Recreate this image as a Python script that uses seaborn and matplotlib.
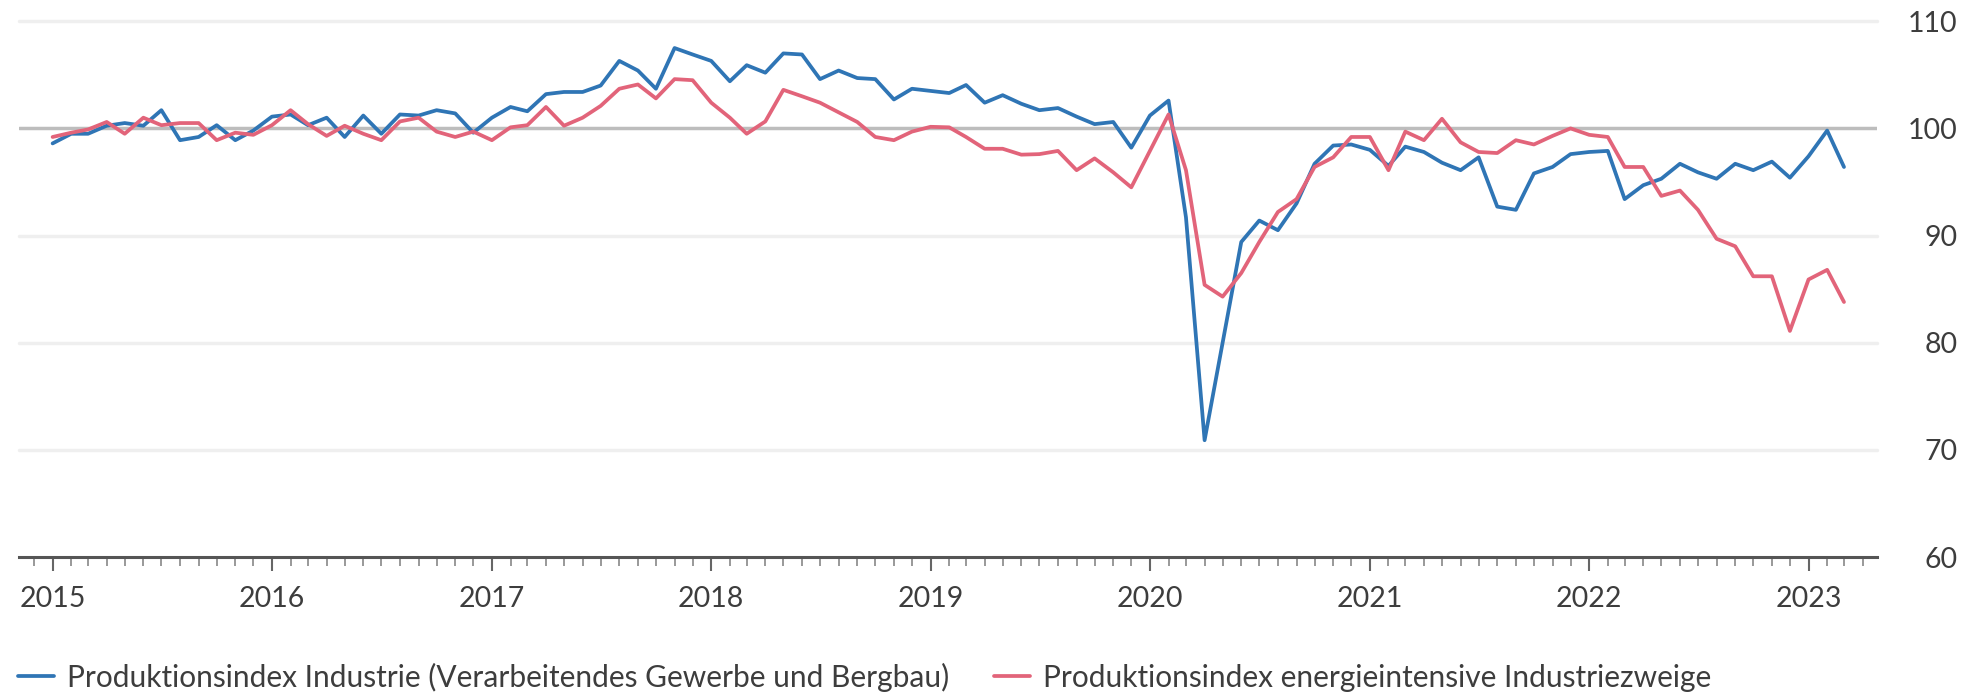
import numpy as np
import pandas as pd
import matplotlib
matplotlib.use("Agg")
import matplotlib.pyplot as plt
import matplotlib.dates as mdates
import seaborn as sns

# Monatswerte Jan 2015 - Mär 2023
industrie = [
    98.6, 99.5, 99.5, 100.25, 100.5, 100.25, 101.7, 98.9, 99.2, 100.3, 98.9, 99.8,
    101.1, 101.3, 100.3, 101.0, 99.2, 101.2, 99.5, 101.3, 101.2, 101.7, 101.4, 99.6,
    101.0, 102.0, 101.6, 103.2, 103.4, 103.4, 104.0, 106.3, 105.4, 103.7, 107.5, 106.9,
    106.3, 104.4, 105.9, 105.2, 107.0, 106.9, 104.6, 105.4, 104.7, 104.6, 102.7, 103.7,
    103.5, 103.3, 104.05, 102.4, 103.1, 102.3, 101.7, 101.9, 101.1, 100.4, 100.6, 98.2,
    101.2, 102.6, 91.7, 70.9, 80.0, 89.4, 91.4, 90.5, 93.0, 96.7, 98.4, 98.5,
    98.0, 96.5, 98.3, 97.8, 96.8, 96.1, 97.3, 92.7, 92.4, 95.8, 96.4, 97.6,
    97.8, 97.9, 93.4, 94.7, 95.3, 96.7, 95.9, 95.3, 96.7, 96.1, 96.9, 95.4,
    97.4, 99.8, 96.4,
]
energieintensiv = [
    99.2, 99.6, 99.9, 100.6, 99.5, 101.0, 100.3, 100.5, 100.5, 98.9, 99.6, 99.4,
    100.3, 101.7, 100.4, 99.3, 100.25, 99.5, 98.9, 100.65, 101.0, 99.7, 99.2, 99.7,
    98.9, 100.1, 100.3, 102.0, 100.25, 101.0, 102.1, 103.7, 104.1, 102.8, 104.6, 104.5,
    102.4, 101.0, 99.5, 100.65, 103.6, 103.0, 102.4, 101.5, 100.6, 99.2, 98.9, 99.7,
    100.15, 100.1, 99.2, 98.1, 98.1, 97.55, 97.6, 97.9, 96.1, 97.2, 95.9, 94.5,
    97.9, 101.3, 96.1, 85.4, 84.3, 86.5, 89.4, 92.2, 93.4, 96.4, 97.3, 99.2,
    99.2, 96.1, 99.7, 98.9, 100.9, 98.7, 97.8, 97.7, 98.9, 98.5, 99.3, 100.0,
    99.4, 99.2, 96.4, 96.4, 93.7, 94.2, 92.4, 89.7, 89.0, 86.2, 86.2, 81.1,
    85.9, 86.8, 83.8,
]
monate = pd.date_range("2015-01-01", periods=len(industrie), freq="MS")

label_ind = "Produktionsindex Industrie (Verarbeitendes Gewerbe und Bergbau)"
label_energie = "Produktionsindex energieintensive Industriezweige"

df = pd.concat([
    pd.DataFrame({"Monat": monate, "Wert": industrie, "Serie": label_ind}),
    pd.DataFrame({"Monat": monate, "Wert": energieintensiv, "Serie": label_energie}),
])

sns.set_theme(style="white")
plt.rcParams['font.family'] = ['Lato', 'DejaVu Sans']

blau = "#2f75b5"
rot = "#e2647a"
textfarbe = "#3d3d3d"

fig = plt.figure(figsize=(19.75, 6.94), dpi=100)
ax = fig.add_axes([0.0096, 0.1974, 0.9408, 0.7766])

# Gitterlinien
for y in [70, 80, 90, 110]:
    ax.axhline(y, color="#efefef", lw=2.5, zorder=0, clip_on=False)
ax.axhline(100, color="#bdbdbd", lw=2.5, zorder=1)

sns.lineplot(data=df, x="Monat", y="Wert", hue="Serie",
             palette=[blau, rot], linewidth=2.7, ax=ax, zorder=3)

ax.set_xlim(pd.Timestamp("2014-11-06"), pd.Timestamp("2023-04-25"))
ax.set_ylim(60, 110.3)
ax.set_xlabel("")
ax.set_ylabel("")

# x-Achse
ax.xaxis.set_major_locator(mdates.YearLocator())
ax.xaxis.set_major_formatter(mdates.DateFormatter("%Y"))
ax.xaxis.set_minor_locator(mdates.MonthLocator())
ax.tick_params(axis="x", which="major", direction="out", length=10, width=1.5,
               color="#666666", pad=11, labelsize=20.5, labelcolor=textfarbe, bottom=True)
ax.tick_params(axis="x", which="minor", direction="out", length=6.5, width=1.2,
               color="#888888", bottom=True)

# y-Achse rechts
ax.yaxis.tick_right()
ax.set_yticks([60, 70, 80, 90, 100, 110])
ax.tick_params(axis="y", length=0, pad=58, labelsize=20.5, labelcolor=textfarbe)
for lab in ax.get_yticklabels():
    lab.set_horizontalalignment("right")

for s in ["top", "left", "right"]:
    ax.spines[s].set_visible(False)
ax.spines["bottom"].set_color("#555555")
ax.spines["bottom"].set_linewidth(2.2)
ax.spines["bottom"].set_zorder(4)

# Legende
handles, labels = ax.get_legend_handles_labels()
ax.legend(handles, labels, loc="center left", bbox_to_anchor=(0.009, 0.0245),
          bbox_transform=fig.transFigure, ncol=2, frameon=False, fontsize=21.5,
          handlelength=1.2, handletextpad=0.45, columnspacing=1.5,
          borderpad=0, borderaxespad=0, labelcolor=textfarbe)

fig.savefig("out.png", dpi=100)
